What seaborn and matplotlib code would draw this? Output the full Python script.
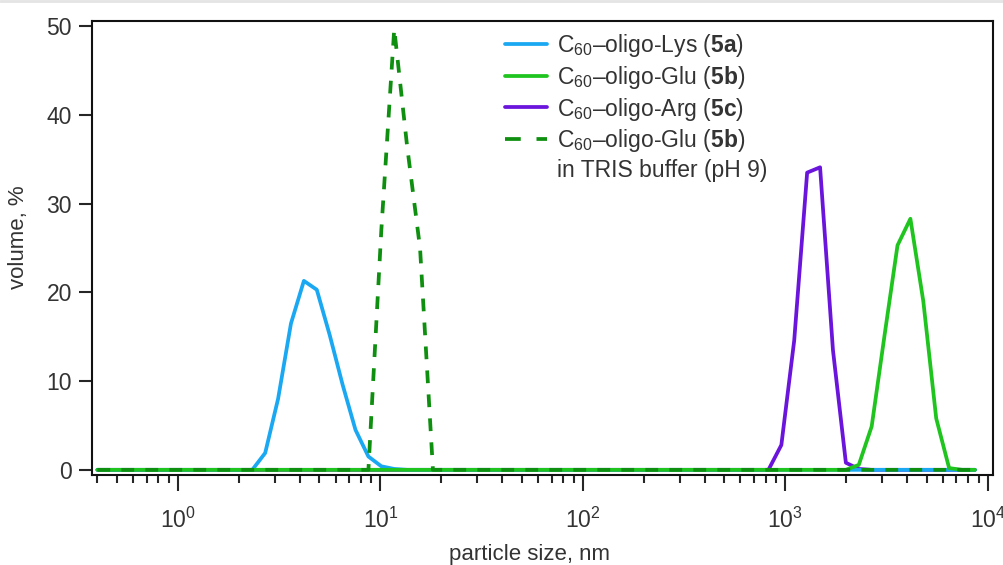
import matplotlib
matplotlib.use("Agg")
import matplotlib.pyplot as plt
import seaborn as sns
from matplotlib.lines import Line2D
from matplotlib.ticker import LogLocator, NullFormatter

# ─────────────────────────────────────────────────────────────────
# DATA  (size bins in nm, volume in %)
# ─────────────────────────────────────────────────────────────────
lys_size = [0.4, 2.328, 2.696, 3.122, 3.615, 4.187, 4.849, 5.615, 6.503,
            7.531, 8.721, 10.10, 11.70, 13.54, 8635]
lys_vol = [0, 0, 1.9, 8.0, 16.5, 21.3, 20.3, 15.2, 9.6, 4.5, 1.5, 0.4, 0.1, 0, 0]

glu_size = [0.4, 1990, 2305, 2669, 3091, 3580, 4145, 4801, 5560, 6439, 7456, 8635]
glu_vol = [0, 0, 0.56, 4.9, 15.2, 25.3, 28.3, 19.0, 5.8, 0.2, 0, 0]

arg_size = [0.4, 825.0, 955.4, 1106, 1281, 1484, 1718, 1990, 2305, 2669, 8635]
arg_vol = [0, 0, 2.8, 14.6, 33.5, 34.1, 13.5, 0.8, 0.1, 0, 0]

tris_size = [0.4, 8.721, 10.10, 11.70, 13.54, 15.69, 18.17, 8635]
tris_vol = [0, 0, 27.0, 49.7, 36.5, 25.0, 0, 0]

labels = [r"C$_{60}$–oligo-Lys ($\mathbf{5a}$)",
          r"C$_{60}$–oligo-Glu ($\mathbf{5b}$)",
          r"C$_{60}$–oligo-Arg ($\mathbf{5c}$)",
          r"C$_{60}$–oligo-Glu ($\mathbf{5b}$)",
          "in TRIS buffer (pH 9)"]

y_ticks = [0, 10, 20, 30, 40, 50]

# ─────────────────────────────────────────────────────────────────
# STYLE
# ─────────────────────────────────────────────────────────────────
sns.set_theme(style="ticks")
plt.rcParams["font.family"] = ["Liberation Sans", "DejaVu Sans"]
plt.rcParams["mathtext.fontset"] = "custom"
plt.rcParams["mathtext.rm"] = "Liberation Sans"
plt.rcParams["mathtext.it"] = "Liberation Sans:italic"
plt.rcParams["mathtext.bf"] = "Liberation Sans:bold"

C_LYS = "#1aa8f2"
C_GLU = "#1fc41f"
C_ARG = "#6a14dc"
C_TRIS = "#0f8f0f"
LW = 2.7
DASH = (0, (3.4, 3.0))
TXT = "#333333"

fig, ax = plt.subplots(figsize=(10.04, 5.65), dpi=100)
fig.subplots_adjust(left=0.0916, right=0.989, top=0.963, bottom=0.159)
ax.set_xscale("log")

sns.lineplot(x=arg_size, y=arg_vol, ax=ax, color=C_ARG, linewidth=LW)
sns.lineplot(x=lys_size, y=lys_vol, ax=ax, color=C_LYS, linewidth=LW)
sns.lineplot(x=glu_size, y=glu_vol, ax=ax, color=C_GLU, linewidth=LW)
sns.lineplot(x=tris_size, y=tris_vol, ax=ax, color=C_TRIS, linewidth=LW,
             linestyle=DASH)

ax.set_xlim(0.376, 10600)
ax.set_ylim(-0.6, 50.6)
ax.set_yticks(y_ticks)
ax.xaxis.set_major_locator(LogLocator(base=10, numticks=10))
ax.xaxis.set_minor_locator(LogLocator(base=10, subs=range(2, 10), numticks=100))
ax.xaxis.set_minor_formatter(NullFormatter())

for s in ax.spines.values():
    s.set_linewidth(1.5)
    s.set_color("#111111")
ax.tick_params(axis="x", which="major", length=11.5, width=1.5, pad=12,
               labelsize=16.5, labelcolor=TXT)
ax.tick_params(axis="x", which="minor", length=6, width=1.5)
ax.tick_params(axis="y", which="major", length=9.5, width=1.5, pad=5,
               labelsize=16.5, labelcolor=TXT)

ax.set_xlabel("particle size, nm", fontsize=16, color=TXT)
ax.set_ylabel("volume, %", fontsize=16, color=TXT)
ax.xaxis.set_label_coords(0.486, -0.152)
ax.yaxis.set_label_coords(-0.07, 0.524)

handles = [Line2D([], [], color=C_LYS, lw=LW),
           Line2D([], [], color=C_GLU, lw=LW),
           Line2D([], [], color=C_ARG, lw=LW),
           Line2D([], [], color=C_TRIS, lw=LW, linestyle=(0, (4.2, 4.2))),
           Line2D([], [], color="none")]
leg = ax.legend(handles, labels, loc="upper left", bbox_to_anchor=(0.448, 0.995),
                frameon=False, fontsize=16.5, handlelength=1.85, handletextpad=0.42,
                labelspacing=0.2, borderaxespad=0)
for t in leg.get_texts():
    t.set_color(TXT)

# thin grey border at the very top of the picture
fig.add_artist(Line2D([0, 1], [0.998, 0.998], color="#e4e4e4", lw=2,
                      transform=fig.transFigure))

fig.savefig("out.png", dpi=100)
